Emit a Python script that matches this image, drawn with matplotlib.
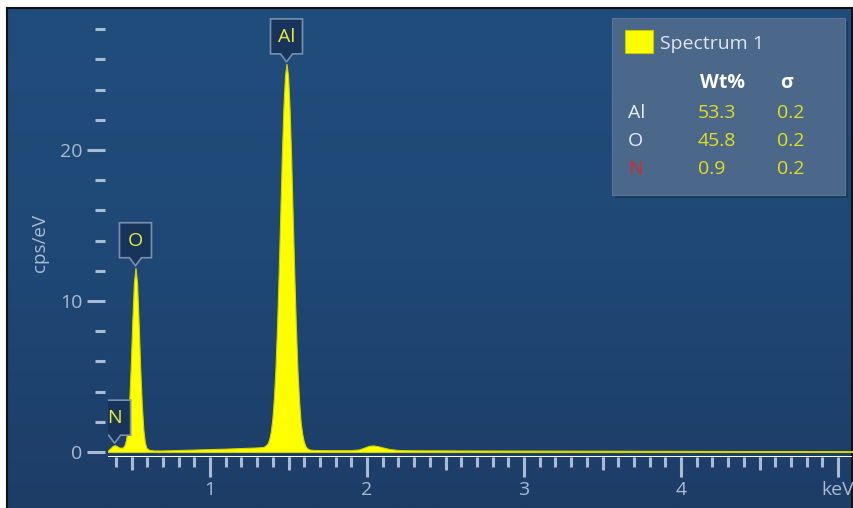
import numpy as np
import matplotlib.pyplot as plt
import matplotlib.transforms as mtransforms
from matplotlib.patches import Polygon, Rectangle
from matplotlib.colors import LinearSegmentedColormap

plt.rcParams['font.family'] = ['Open Sans', 'DejaVu Sans']

# spectrum (keV, cps/eV)
energy_keV = [0.350, 0.365, 0.380, 0.392, 0.405, 0.420, 0.435, 0.445, 0.455, 0.465,
              0.475, 0.485, 0.495, 0.505, 0.515, 0.525, 0.535, 0.545, 0.555, 0.565,
              0.575, 0.585, 0.595, 0.610, 0.640, 0.700, 0.800, 0.900, 1.000, 1.100,
              1.200, 1.300, 1.340, 1.357, 1.367, 1.377, 1.387, 1.397, 1.407, 1.417,
              1.427, 1.437, 1.447, 1.457, 1.467, 1.477, 1.487, 1.497, 1.507, 1.517,
              1.527, 1.537, 1.547, 1.557, 1.567, 1.577, 1.587, 1.597, 1.607, 1.617,
              1.630, 1.660, 1.750, 1.900, 1.950, 1.980, 2.010, 2.040, 2.070, 2.100,
              2.140, 2.200, 2.300, 2.600, 3.000, 3.500, 4.000, 4.500, 5.100]
cps = [0.10, 0.25, 0.40, 0.45, 0.40, 0.30, 0.28, 0.30, 0.45, 0.80,
       1.60, 3.30, 5.70, 8.70, 11.2, 12.2, 11.2, 8.6, 5.6, 3.2,
       1.5, 0.62, 0.27, 0.15, 0.10, 0.10, 0.13, 0.16, 0.19, 0.22,
       0.26, 0.30, 0.33, 0.45, 0.58, 0.85, 1.35, 2.20, 3.60, 5.60,
       8.40, 11.8, 15.6, 19.5, 22.7, 24.9, 25.7, 24.9, 22.6, 19.3,
       15.4, 11.6, 8.2, 5.4, 3.4, 2.0, 1.2, 0.70, 0.40, 0.26,
       0.17, 0.13, 0.12, 0.12, 0.17, 0.28, 0.40, 0.43, 0.38, 0.30,
       0.20, 0.13, 0.11, 0.10, 0.09, 0.08, 0.07, 0.06, 0.05]

peak_names = ['N', 'O', 'Al']
peak_keV = [0.392, 0.525, 1.487]

x_ticks = [1, 2, 3, 4, 5]
x_ticklabels = ['1', '2', '3', '4', 'keV']
y_ticks = [0, 10, 20]

legend_title = 'Spectrum 1'
table_elements = ['Al', 'O', 'N']
table_wt = ['53.3', '45.8', '0.9']
table_sigma = ['0.2', '0.2', '0.2']
element_colors = ['#e8edf3', '#e8edf3', '#d42a2a']

W, H = 854, 508
TICK = '#a9bbd3'
YELLOW = '#ffff00'


def fx(x):
    return x / W


def fy(y):
    return 1 - y / H


fig = plt.figure(figsize=(8.54, 5.08), dpi=100, facecolor='white')

# blue panel with gradient
bg = fig.add_axes([fx(7), 0, fx(852) - fx(7), fy(8)])
cmap = LinearSegmentedColormap.from_list('panel', ['#214d7c', '#1f4876', '#1d3d67'])
bg.imshow(np.linspace(0, 1, 256)[:, None], cmap=cmap, aspect='auto',
          extent=[0, 1, 0, 1], origin='upper')
bg.set_xticks([])
bg.set_yticks([])
for side in ['top', 'left', 'right']:
    bg.spines[side].set_color('#111111')
    bg.spines[side].set_linewidth(1.5)
bg.spines['bottom'].set_visible(False)

ax = fig.add_axes([fx(108), fy(456.5), fx(852) - fx(108), (456.5 - 8) / H])
ax.set_facecolor('none')
ax.set_xlim(0.35, 5.089)
ax.set_ylim(-0.3, 29.4)
for s in ax.spines.values():
    s.set_visible(False)

ax.fill_between(energy_keV, cps, 0, facecolor=YELLOW, edgecolor='#d4d400',
                linewidth=0.8, zorder=2)

# x ticks
ax.set_xticks(x_ticks)
ax.set_xticklabels(x_ticklabels)
ax.set_xticks(np.round(np.arange(4, 51) / 10, 1), minor=True)
ax.tick_params(axis='x', which='major', length=14.4, width=2.2, color=TICK,
               labelcolor=TICK, labelsize=14, pad=3.5)
ax.tick_params(axis='x', which='minor', length=7.2, width=2.2, color=TICK)
sec = ax.secondary_xaxis('bottom')
sec.set_xticks(np.arange(0.5, 5, 1))
sec.tick_params(axis='x', length=9.4, width=2.2, color=TICK, labelbottom=False)
for s in sec.spines.values():
    s.set_visible(False)

# y ticks
ax.spines['left'].set_position(('outward', 2.2))
ax.set_yticks(y_ticks)
ax.set_yticks([v for v in range(2, 29, 2) if v % 10], minor=True)
ax.tick_params(axis='y', which='major', length=13, width=2.2, color=TICK,
               labelcolor=TICK, labelsize=14, pad=3)
ax.tick_params(axis='y', which='minor', length=7.2, width=2.2, color=TICK)

fig.text(fx(40), fy(243), 'cps/eV', rotation=90, ha='center', va='center',
         fontsize=13.5, color=TICK)

# element markers
ident = mtransforms.IdentityTransform()
for name, e in zip(peak_names, peak_keV):
    c = np.interp(e, energy_keV, cps)
    x0, y0 = ax.transData.transform((e, c))
    verts = [(x0 - 6, y0 + 10), (x0 - 16, y0 + 10), (x0 - 16, y0 + 45),
             (x0 + 16, y0 + 45), (x0 + 16, y0 + 10), (x0 + 6, y0 + 10),
             (x0, y0 + 2)]
    ax.add_patch(Polygon(verts, closed=True, transform=ident, facecolor='#19345a',
                         edgecolor='#7890ab', linewidth=1.2, zorder=4))
    ax.text(x0, y0 + 27, name, transform=ident, ha='center', va='center',
            fontsize=14, color='#eaea3c', zorder=5)

# legend / results table
fig.add_artist(Rectangle((fx(615), fy(198)), fx(848) - fx(615), (198 - 21) / H,
                         transform=fig.transFigure, facecolor='#152c48',
                         alpha=0.5, edgecolor='none', zorder=5))
fig.add_artist(Rectangle((fx(612), fy(195)), fx(845) - fx(612), (195 - 18) / H,
                         transform=fig.transFigure, facecolor='#4b678a',
                         edgecolor='#5a7597', linewidth=0.8, zorder=6))
fig.add_artist(Rectangle((fx(625), fy(53)), fx(653) - fx(625), (53 - 30) / H,
                         transform=fig.transFigure, facecolor=YELLOW,
                         edgecolor='#c8c800', linewidth=0.8, zorder=7))
fig.text(fx(660), fy(44), legend_title, ha='left', va='center', fontsize=14,
         color='#dfe6ef', zorder=7)
fig.text(fx(722), fy(83), 'Wt%', ha='center', va='center', fontsize=14,
         fontweight='bold', color='white', zorder=7)
fig.text(fx(787), fy(83), 'σ', ha='center', va='center', fontsize=14,
         fontweight='bold', color='white', zorder=7)
for i, (el, wt, sg, col) in enumerate(zip(table_elements, table_wt, table_sigma,
                                          element_colors)):
    yy = 113 + 28 * i
    fig.text(fx(628), fy(yy), el, ha='left', va='center', fontsize=14,
             color=col, zorder=7)
    fig.text(fx(698), fy(yy), wt, ha='left', va='center', fontsize=14,
             color='#e0e020', zorder=7)
    fig.text(fx(777), fy(yy), sg, ha='left', va='center', fontsize=14,
             color='#e0e020', zorder=7)

fig.savefig('out.png', dpi=100, facecolor='white')
